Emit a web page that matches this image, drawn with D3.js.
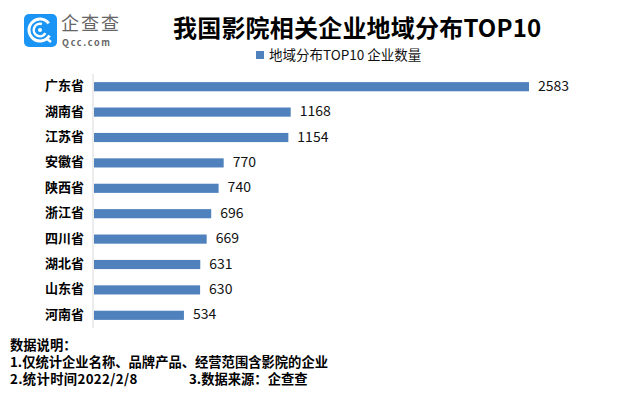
<!DOCTYPE html>
<html><head><meta charset="utf-8">
<script src="https://cdn.jsdelivr.net/npm/d3@7/dist/d3.min.js"></script>
<style>html,body{margin:0;background:#fff}svg{display:block}text{font-family:"Noto Sans CJK SC","Noto Sans",sans-serif}</style>
</head><body><svg id="c" width="639" height="395"></svg>
<script>
const categories=["广东省","湖南省","江苏省","安徽省","陕西省","浙江省","四川省","湖北省","山东省","河南省"];
const values=[2583,1168,1154,770,740,696,669,631,630,534];
const seriesName="地域分布TOP10 企业数量";
const titleText="我国影院相关企业地域分布TOP10";
const notes=["数据说明：","1.仅统计企业名称、品牌产品、经营范围含影院的企业","2.统计时间2022/2/8"];
const note3="3.数据来源：企查查";
const svg=d3.select("#c");
const x=d3.scaleLinear().domain([0,2583]).range([94,529]);
const y=d3.scaleBand().domain(categories).range([74,328]).paddingInner(0.64).paddingOuter(0.32);
svg.append("line").attr("x1",93).attr("x2",93).attr("y1",74).attr("y2",328).attr("stroke","#d9d9d9").attr("stroke-width",1);
svg.selectAll("rect.bar").data(values).join("rect").attr("class","bar")
 .attr("x",x(0)).attr("y",(d,i)=>y(categories[i])).attr("width",d=>x(d)-x(0)).attr("height",y.bandwidth()).attr("fill","#4f81bd");
svg.selectAll("text.val").data(values).join("text").attr("class","val")
 .attr("x",d=>x(d)+9).attr("y",(d,i)=>y(categories[i])+y.bandwidth()/2+4).attr("font-size",14).attr("fill","#111").text(d=>d);
svg.selectAll("text.cat").data(categories).join("text").attr("class","cat")
 .attr("x",84).attr("y",d=>y(d)+y.bandwidth()/2+3.5).attr("text-anchor","end").attr("font-size",13).attr("font-weight",700).attr("fill","#000").text(d=>d);
svg.append("text").attr("x",173).attr("y",37).attr("font-size",24).attr("font-weight",700).attr("letter-spacing",0.2).attr("fill","#000").text(titleText);
svg.append("rect").attr("x",256).attr("y",51).attr("width",8).attr("height",8).attr("fill","#4f81bd");
svg.append("text").attr("x",269).attr("y",60).attr("font-size",13.5).attr("fill","#111").text(seriesName);
svg.selectAll("text.note").data(notes).join("text").attr("class","note")
 .attr("x",10).attr("y",(d,i)=>350+i*17).attr("font-size",13.3).attr("font-weight",700).attr("letter-spacing",(d,i)=>i==2?0.35:0).attr("fill","#000").text(d=>d);
svg.append("text").attr("x",189).attr("y",384).attr("font-size",13.3).attr("font-weight",700).attr("fill","#000").text(note3);
// logo
const g=svg.append("g");
g.append("rect").attr("x",24).attr("y",14).attr("width",33).attr("height",33).attr("rx",5).attr("fill","#1b95f5");
const arc=d3.arc();
[[9.5,12.5,0.9,6.0],[5,7.5,0.9,5.4]].forEach(([ri,ro,a0,a1])=>g.append("path")
 .attr("transform","translate(40,30)").attr("fill","#fff")
 .attr("d",arc({innerRadius:ri,outerRadius:ro,startAngle:a0+1.2,endAngle:a1+1.2})));
g.append("circle").attr("cx",40).attr("cy",30).attr("r",2).attr("fill","#fff");
g.append("line").attr("x1",46).attr("y1",38).attr("x2",51).attr("y2",42).attr("stroke","#fff").attr("stroke-width",2.5);
g.append("text").attr("x",61).attr("y",30).attr("font-size",18).attr("letter-spacing",2).attr("fill","#666").text("企查查");
g.append("text").attr("x",62).attr("y",46).attr("font-size",9).attr("font-weight",700).attr("letter-spacing",1.7).attr("fill","#666").text("Qcc.com");
</script></body></html>
